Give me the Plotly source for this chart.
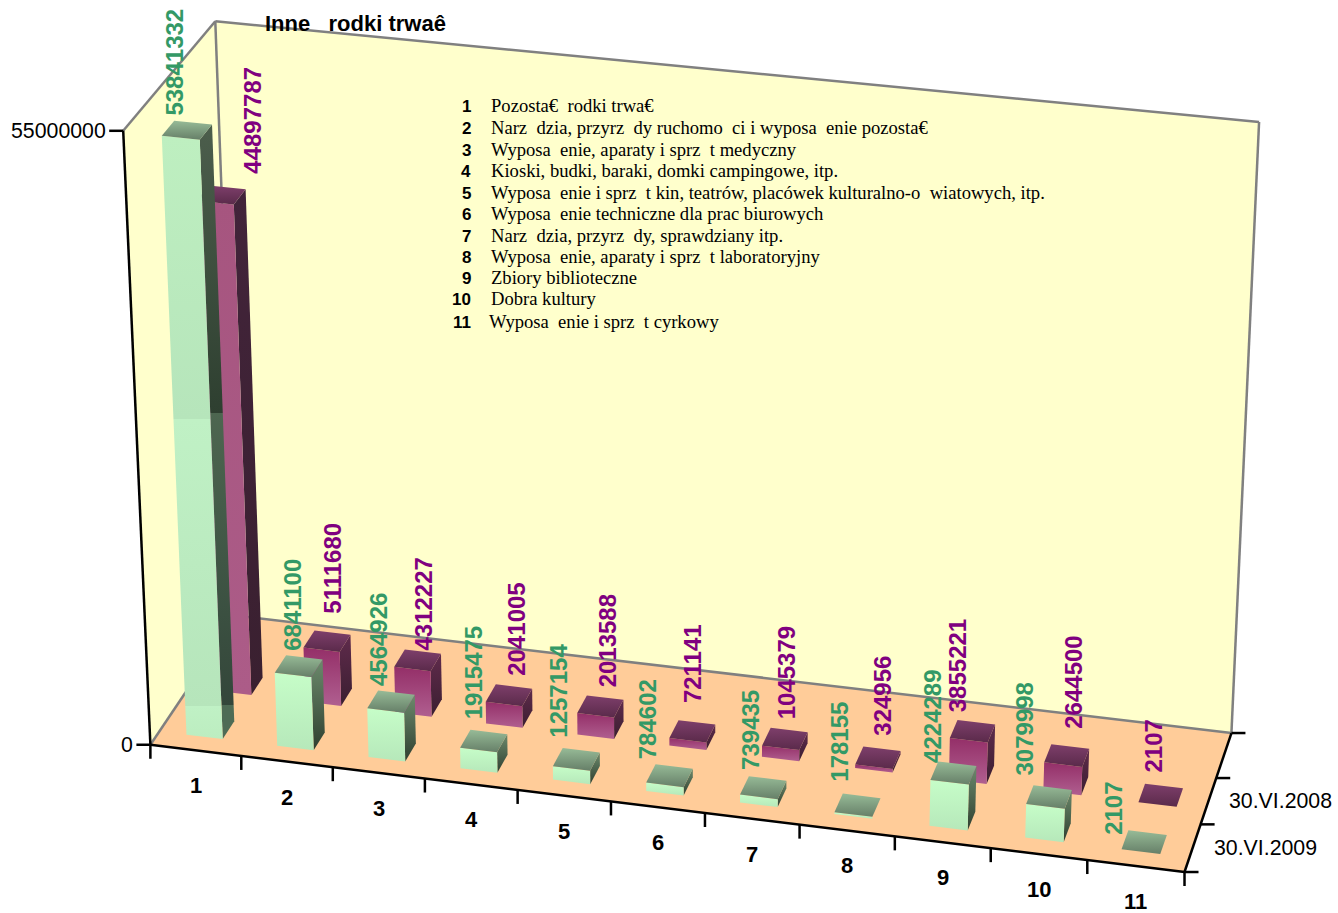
import numpy as np
import plotly.graph_objects as go

categories = ["1","2","3","4","5","6","7","8","9","10","11"]
series_names = ["30.VI.2009","30.VI.2008"]
values_2009 = [53841332,6841100,4564926,1915475,1257154,784602,739435,178155,4224289,3079998,2107]
values_2008 = [44897787,5111680,4312227,2041005,2013588,721141,1045379,324956,3855221,2644500,2107]
z_ticks = [0,55000000]
z_tick_labels = ["0","55000000"]
title_text = "Inne\u00a0\u00a0\u00a0rodki trwaê"
legend_numbers = ["1","2","3","4","5","6","7","8","9","10","11"]
legend_texts = [
 "Pozosta€\u00a0\u00a0rodki trwa€",
 "Narz\u00a0\u00a0dzia, przyrz\u00a0\u00a0dy ruchomo\u00a0\u00a0ci i wyposa\u00a0\u00a0enie pozosta€",
 "Wyposa\u00a0\u00a0enie, aparaty i sprz\u00a0\u00a0t medyczny",
 "Kioski, budki, baraki, domki campingowe, itp.",
 "Wyposa\u00a0\u00a0enie i sprz\u00a0\u00a0t kin, teatrów, placówek kulturalno-o\u00a0\u00a0wiatowych, itp.",
 "Wyposa\u00a0\u00a0enie techniczne dla prac biurowych",
 "Narz\u00a0\u00a0dzia, przyrz\u00a0\u00a0dy, sprawdziany itp.",
 "Wyposa\u00a0\u00a0enie, aparaty i sprz\u00a0\u00a0t laboratoryjny",
 "Zbiory biblioteczne",
 "Dobra kultury",
 "Wyposa\u00a0\u00a0enie i sprz\u00a0\u00a0t cyrkowy",
]

# ---- layout / projection -----
NX, NY, ZMAX = len(categories), 3, z_ticks[-1]
anchors_3d = [(0,0,0),(NX,0,0),(NX,NY,0),(0,NY,0),(0,0,1),(0,NY,1),(NX,NY,1)]
anchors_2d = [(152.5,745.5),(1184,872),(1232,733),(235,615),(121.5,130),(217,22),(1259,122)]
A=[]
for (X,Y,Z),(u,v) in zip(anchors_3d,anchors_2d):
    A.append([X,Y,Z,1,0,0,0,0,-u*X,-u*Y,-u*Z,-u])
    A.append([0,0,0,0,X,Y,Z,1,-v*X,-v*Y,-v*Z,-v])
P=np.linalg.svd(np.array(A,float))[2][-1].reshape(3,4)
def proj(x,y,val=0.0):
    h=P@np.array([x,y,val/ZMAX,1.0])
    return h[0]/h[2],h[1]/h[2]

fig=go.Figure()
def poly(pts,c1,c2=None,stops=None):
    xs,ys=zip(*[proj(*p) for p in pts])
    xs=list(xs)+[xs[0]]; ys=list(ys)+[ys[0]]
    kw=dict(x=xs,y=ys,mode="lines",line=dict(width=0),fill="toself",hoverinfo="skip",showlegend=False)
    if c2 is None:
        kw["fillcolor"]=c1
    else:
        kw["fillgradient"]=dict(type="vertical",start=min(ys),stop=max(ys),
            colorscale=stops if stops else [[0,c1],[1,c2]])
    fig.add_trace(go.Scatter(**kw))
def seg(p,q,color,w=2.5):
    a,b=proj(*p),proj(*q)
    fig.add_trace(go.Scatter(x=[a[0],b[0]],y=[a[1],b[1]],mode="lines",line=dict(color=color,width=w),hoverinfo="skip",showlegend=False))
def tick(p,dx,dy):
    a=proj(*p)
    fig.add_trace(go.Scatter(x=[a[0],a[0]+dx],y=[a[1],a[1]+dy],mode="lines",line=dict(color="black",width=2.5),hoverinfo="skip",showlegend=False))

WALL,FLOOR,EDGE="#FFFFCC","#FFCC99","#808080"
poly([(0,0,0),(0,NY,0),(0,NY,ZMAX),(0,0,ZMAX)],WALL)
poly([(0,NY,0),(NX,NY,0),(NX,NY,ZMAX),(0,NY,ZMAX)],WALL)
poly([(0,0,0),(NX,0,0),(NX,NY,0),(0,NY,0)],FLOOR)
seg((0,0,0),(0,NY,0),EDGE); seg((0,NY,0),(NX,NY,0),EDGE); seg((NX,NY,0),(NX,NY,ZMAX),EDGE)
seg((NX,NY,ZMAX),(0,NY,ZMAX),EDGE); seg((0,NY,ZMAX),(0,NY,0),EDGE); seg((0,NY,ZMAX),(0,0,ZMAX),EDGE)

GAP,W=0.3,0.4
GREEN=dict(front=("#C6FDC8","#B6E8BA"),side=("#6C8A6C","#2F3F30"),top=("#97BB97","#667F68"))
PURP=dict(front=("#942F68","#B05F90"),side=("#602B4C","#3A1E30"),top=("#7E3F6B","#5A2A4A"))
def bar(i,slot,val,st,tall=None):
    x0,x1=i+GAP,i+GAP+W; y0,y1=slot+GAP,slot+GAP+W
    poly([(x1,y0,0),(x1,y1,0),(x1,y1,val),(x1,y0,val)],*st["side"],stops=tall and tall["side"])
    poly([(x0,y0,0),(x1,y0,0),(x1,y0,val),(x0,y0,val)],*st["front"],stops=tall and tall["front"])
    poly([(x0,y0,val),(x1,y0,val),(x1,y1,val),(x0,y1,val)],*st["top"])

for i,v in enumerate(values_2008):
    st=PURP
    if i==0: st=dict(PURP,front=("#A6557F","#AC5C88"),side=("#42243A","#3A2030"))
    bar(i,1,v,st)
tall_green=dict(
 front=[[0,"#BEEFC0"],[.47,"#B6E5BB"],[.47,"#C0F1C5"],[.945,"#B6E5BB"],[.945,"#C0F1C5"],[1,"#BCEDC0"]],
 side=[[0,"#4C5E4C"],[.47,"#2E3F30"],[.47,"#4D6650"],[.945,"#33463A"],[.945,"#4E6B55"],[1,"#4E6B55"]])
for i,v in enumerate(values_2009):
    bar(i,0,v,GREEN,tall_green if i==0 else None)

# axes
seg((0,0,0),(0,0,ZMAX),"black"); seg((0,0,0),(NX,0,0),"black"); seg((NX,0,0),(NX,NY,0),"black")
TL=14
for z in z_ticks: tick((0,0,z),-TL,0)
for i in range(NX+1): tick((i,0,0),0,TL)
for s in range(NY+1): tick((NX,s,0),TL,0)

ann=[]
def text(x,y,t,size,color="black",bold=False,fam="Liberation Sans",xa="center",ya="middle",ang=0):
    ann.append(dict(x=x,y=y,xref="x",yref="y",text=("<b>%s</b>"%t if bold else t),showarrow=False,borderpad=0,borderwidth=0,
        font=dict(family=fam,size=size,color=color),xanchor=xa,yanchor=ya,textangle=ang))
for z,l in zip(z_ticks,z_tick_labels):
    a=proj(0,0,z); text(a[0]-TL-3,a[1],l,21.3,xa="right")
for i,c in enumerate(categories):
    a=proj(i+.5,0,0); text(a[0],a[1]+35.5,c,22,bold=True)
for s,n in enumerate(series_names):
    a=proj(NX,s+.5,0); text(a[0]+21,a[1],n,21.3,xa="left")

# pixel offsets of each data label from the top of its bar
dx_g=[-12,-7,-13,-10,-18,-22,-13,-18,-21,-25,-31]
dy_g=[-15,-15,-15,-22,-22,-16,-18,-23,-10,-21,-7]
dx_p=[31,6,6,8,8,0,1,5,-15,6,-7]
dy_p=[-21,-27,-10,-20,-19,-28,-20,-22,-19,-27,-23]
for i,(v,dx,dy) in enumerate(zip(values_2009,dx_g,dy_g)):
    a=proj(i+GAP+W/2,GAP+W/2,v); text(a[0]+dx,a[1]+dy,str(v),24,"#339966",True,ya="bottom",ang=-90)
for i,(v,dx,dy) in enumerate(zip(values_2008,dx_p,dy_p)):
    a=proj(i+GAP+W/2,1+GAP+W/2,v); text(a[0]+dx,a[1]+dy,str(v),24,"#800080",True,ya="bottom",ang=-90)

text(265,23,title_text,22,bold=True,xa="left")
leg_y=[106,128,150,171,193,214,236,257,278,299,322]
leg_x=[491,491,491,491,491,491,491,491,491,491,489]
for n,t,y,x in zip(legend_numbers,legend_texts,leg_y,leg_x):
    text(471,y,n,17,bold=True,xa="right")
    text(x,y-0.5,t,18.6,fam="Liberation Serif",xa="left")

fig.update_layout(width=1338,height=913,margin=dict(l=0,r=0,t=0,b=0),paper_bgcolor="white",plot_bgcolor="white",
    xaxis=dict(range=[0,1338],visible=False),yaxis=dict(range=[913,0],visible=False),showlegend=False,annotations=ann)
fig.write_html("out.html",post_script="document.body.style.margin='0';",config=dict(displayModeBar=False))
